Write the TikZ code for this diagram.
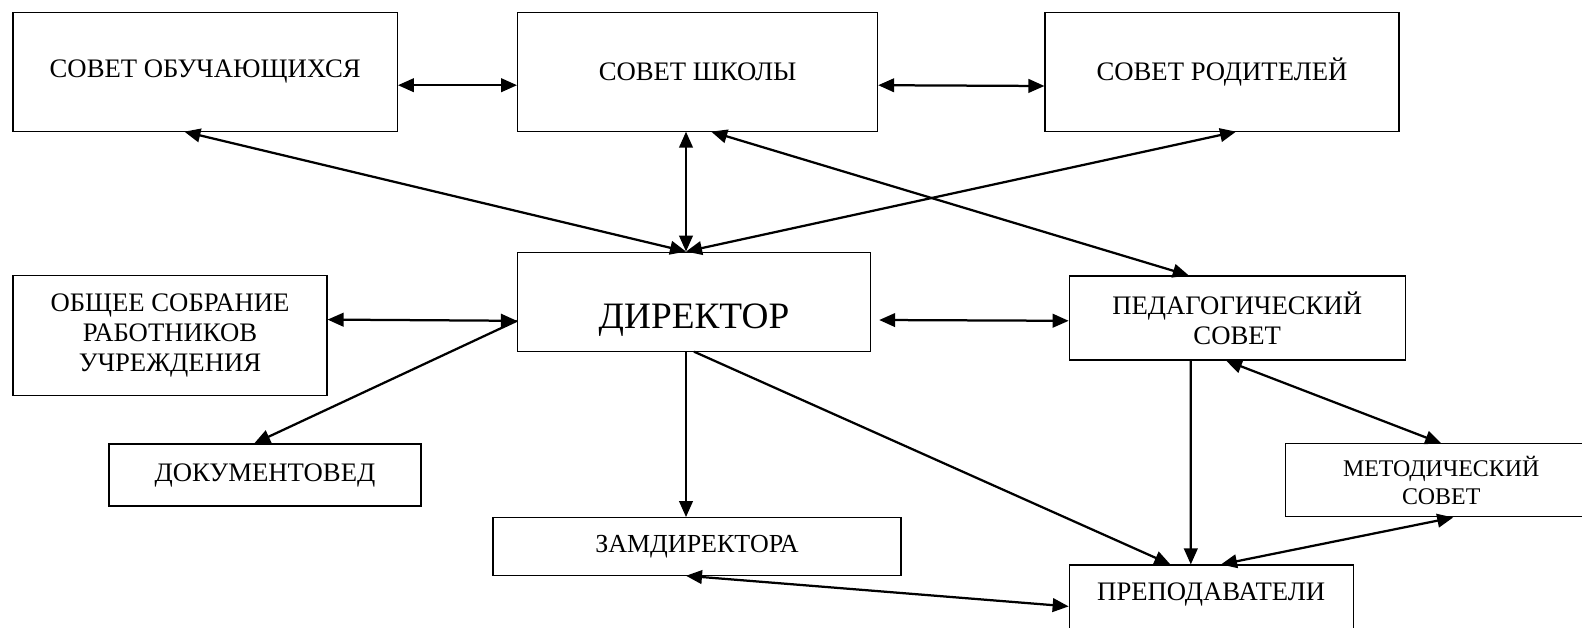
\documentclass[tikz,border=0pt]{standalone}
\usepackage{fontspec}
\setmainfont{Liberation Serif}
\usetikzlibrary{arrows.meta}

\begin{document}
\begin{tikzpicture}[
	org/.style={draw, line width=0.8pt, align=center, inner sep=0pt, font=\fontsize{19}{21.5}\selectfont},
	both/.style={{Triangle[length=0.4cm,width=0.34cm]}-{Triangle[length=0.4cm,width=0.34cm]}, line width=1.6pt},
	one/.style={-{Triangle[length=0.4cm,width=0.34cm]}, line width=1.6pt}]
		\useasboundingbox (0,0) rectangle (39.55,-15.675);
		
		\node[org, minimum width=9.61cm, minimum height=2.975cm] at (5.13,-1.79) (obuch) {СОВЕТ ОБУЧАЮЩИХСЯ};
		\node[org, minimum width=9cm, minimum height=2.975cm] at (17.44,-1.79) (school) {СОВЕТ ШКОЛЫ};
		\node[org, minimum width=8.85cm, minimum height=2.975cm] at (30.55,-1.79) (parents) {СОВЕТ РОДИТЕЛЕЙ};
		\node[org, minimum width=8.83cm, minimum height=2.475cm, font=\fontsize{26.5}{30}\selectfont] at (17.35,-7.54) (dir) {\raisebox{-0.47cm}[\height][\depth]{ДИРЕКТОР}};
		\node[org, minimum width=7.85cm, minimum height=2.99cm] at (4.25,-8.39) (staff) {ОБЩЕЕ СОБРАНИЕ\\РАБОТНИКОВ\\УЧРЕЖДЕНИЯ};
		\node[org, minimum width=8.4cm, minimum height=2.1cm] at (30.93,-7.95) (ped) {ПЕДАГОГИЧЕСКИЙ\\СОВЕТ};
		\node[org, minimum width=7.8cm, minimum height=1.55cm] at (6.625,-11.875) (docs) {ДОКУМЕНТОВЕД};
		\node[org, minimum width=10.2cm, minimum height=1.44cm, font=\fontsize{18.5}{21}\selectfont] at (17.425,-13.66) (deputy) {ЗАМДИРЕКТОРА};
		\node[org, minimum width=7.8cm, minimum height=1.825cm, font=\fontsize{17}{20}\selectfont] at (36.03,-12.01) (method) {МЕТОДИЧЕСКИЙ\\СОВЕТ};
		\node[org, minimum width=7.1cm, minimum height=2.07cm] at (30.28,-15.16) (teach) {ПРЕПОДАВАТЕЛИ\\\mbox{}};
		
		\draw[both] ([yshift=-0.34cm]obuch.east) -- ([yshift=-0.34cm]school.west);
		\draw[both] ([yshift=-0.34cm]school.east) -- ([yshift=-0.36cm]parents.west);
		
		\draw[both] ([xshift=-0.52cm]obuch.south) -- ([xshift=-0.2cm]dir.north);
		\draw[both] ([xshift=-0.29cm]school.south) -- ([xshift=-0.2cm]dir.north);
		\draw[both] ([xshift=0.35cm]parents.south) -- ([xshift=-0.2cm]dir.north);
		\draw[both] ([xshift=0.34cm]school.south) -- ([xshift=-1.21cm]ped.north);
		
		\draw[both] ([yshift=0.4cm]staff.east) -- ([yshift=-0.48cm]dir.west);
		\draw[one] ([yshift=-0.48cm]dir.west) -- ([xshift=-0.27cm]docs.north);
		\draw[both] ([xshift=0.2cm,yshift=-0.46cm]dir.east) -- ([yshift=-0.07cm]ped.west);
		
		\draw[one] ([xshift=-0.2cm]dir.south) -- ([xshift=-0.275cm]deputy.north);
		\draw[one] (dir.south) -- ([xshift=-1.02cm]teach.north);
		\draw[one] ([xshift=-1.16cm]ped.south) -- ([xshift=-0.51cm]teach.north);
		
		\draw[both] ([xshift=-0.28cm]ped.south) -- (method.north);
		\draw[both] ([xshift=0.245cm]teach.north) -- ([xshift=0.3cm]method.south);
		\draw[both] ([xshift=-0.275cm]deputy.south) -- (teach.west);
	\end{tikzpicture}
\end{document}
